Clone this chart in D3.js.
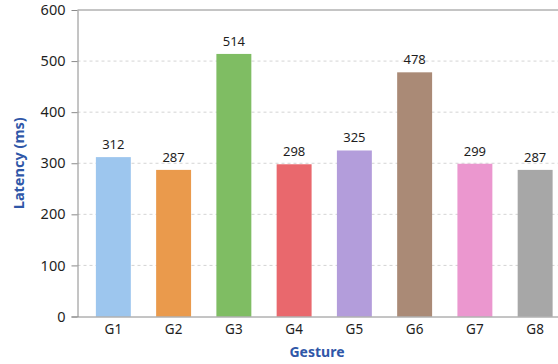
<!DOCTYPE html>
<html>
<head>
<meta charset="utf-8">
<script src="https://cdn.jsdelivr.net/npm/d3@7"></script>
<style>
  html, body { margin: 0; padding: 0; background: #fff; }
  svg { display: block; font-family: "Noto Sans", "Open Sans", sans-serif; }
</style>
</head>
<body>
<svg id="chart" width="558" height="364"></svg>
<script>
// Gesture recognition latency per gesture
const gestures = ["G1", "G2", "G3", "G4", "G5", "G6", "G7", "G8"];
const latencyMs = [312, 287, 514, 298, 325, 478, 299, 287];
const barColors = ["#9dc6ee", "#ea9a4c", "#7fbd63", "#e9686d", "#b39ddb", "#aa8a76", "#eb97cf", "#a7a7a7"];
const yTicks = [0, 100, 200, 300, 400, 500, 600];

const svg = d3.select("#chart");
const plotLeft = 77.5, plotTop = 10, plotBottom = 316.5, plotRight = 571;

const x = d3.scaleBand()
  .domain(gestures)
  .range([plotLeft, plotRight])
  .paddingInner(0.42)
  .paddingOuter(0.305);

const y = d3.scaleLinear()
  .domain([0, 600])
  .range([plotBottom, plotTop]);

// dashed horizontal gridlines
svg.append("g")
  .selectAll("line")
  .data(yTicks.filter(t => t > 0 && t < 600))
  .join("line")
  .attr("x1", plotLeft).attr("x2", 558)
  .attr("y1", d => y(d)).attr("y2", d => y(d))
  .attr("stroke", "#d4d4d4")
  .attr("stroke-width", 1)
  .attr("stroke-dasharray", "3,3");

// top frame line
svg.append("line")
  .attr("x1", plotLeft).attr("x2", 558)
  .attr("y1", y(600)).attr("y2", y(600))
  .attr("stroke", "#8a8a8a").attr("stroke-width", 1);

// bars
svg.append("g")
  .selectAll("rect")
  .data(latencyMs)
  .join("rect")
  .attr("x", (d, i) => x(gestures[i]))
  .attr("width", x.bandwidth())
  .attr("y", d => y(d))
  .attr("height", d => y(0) - y(d))
  .attr("fill", (d, i) => barColors[i]);

// value labels
svg.append("g")
  .selectAll("text")
  .data(latencyMs)
  .join("text")
  .attr("x", (d, i) => x(gestures[i]) + x.bandwidth() / 2)
  .attr("y", d => y(d) - 8)
  .attr("text-anchor", "middle")
  .attr("font-size", 13)
  .attr("fill", "#1e1e1e")
  .text(d => d);

// y axis
const yAxis = svg.append("g")
  .attr("transform", `translate(${plotLeft},0)`)
  .call(d3.axisLeft(y).tickValues(yTicks).tickSize(6).tickPadding(6).tickSizeOuter(0));
yAxis.select(".domain").attr("stroke", "#8a8a8a");
yAxis.selectAll(".tick line").attr("stroke", "#8a8a8a");
yAxis.selectAll(".tick text")
  .attr("font-size", 14.5)
  .attr("font-family", "Noto Sans, sans-serif")
  .attr("fill", "#1e1e1e");

// x axis
const xAxis = svg.append("g")
  .attr("transform", `translate(0,${plotBottom})`)
  .call(d3.axisBottom(x).tickSize(0).tickPadding(8));
xAxis.select(".domain").attr("d", `M${plotLeft - 6},0.5H558`).attr("stroke", "#8a8a8a");
xAxis.selectAll(".tick text")
  .attr("font-size", 13.5)
  .attr("font-family", "Noto Sans, sans-serif")
  .attr("fill", "#1e1e1e");

// axis titles
svg.append("text")
  .attr("x", 317)
  .attr("y", 357)
  .attr("text-anchor", "middle")
  .attr("font-size", 14)
  .attr("font-weight", "bold")
  .attr("fill", "#2f57a8")
  .text("Gesture");

svg.append("text")
  .attr("transform", `translate(24,${(plotTop + plotBottom) / 2}) rotate(-90)`)
  .attr("text-anchor", "middle")
  .attr("font-size", 14.5)
  .attr("font-weight", "bold")
  .attr("fill", "#2f57a8")
  .text("Latency (ms)");
</script>
</body>
</html>
